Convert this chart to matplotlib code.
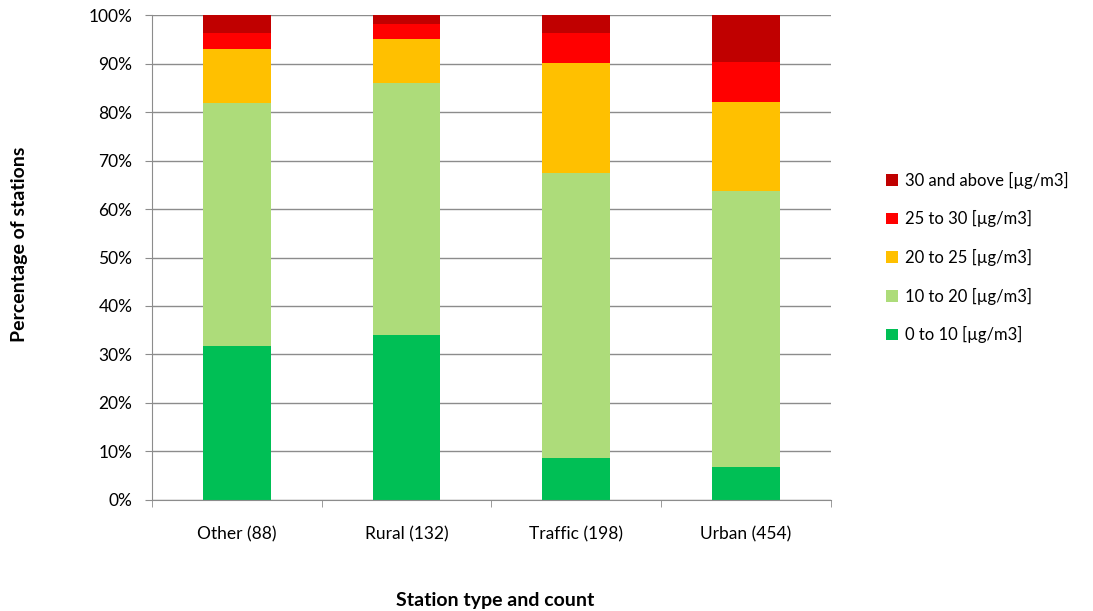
import matplotlib.pyplot as plt
import numpy as np

plt.rcParams['font.family'] = ['Lato', 'DejaVu Sans']

categories = ['Other (88)', 'Rural (132)', 'Traffic (198)', 'Urban (454)']
labels = ['0 to 10 [µg/m3]', '10 to 20 [µg/m3]', '20 to 25 [µg/m3]',
          '25 to 30 [µg/m3]', '30 and above [µg/m3]']
colors = ['#00BF55', '#ADDC7A', '#FFC000', '#FF0000', '#C00000']

s0_10 = [31.8, 34.1, 8.6, 6.8]
s10_20 = [50.0, 51.9, 58.8, 56.9]
s20_25 = [11.2, 9.1, 22.7, 18.4]
s25_30 = [3.3, 3.0, 6.2, 8.2]
s30_up = [3.7, 1.9, 3.7, 9.7]
series = [s0_10, s10_20, s20_25, s25_30, s30_up]

fig = plt.figure(figsize=(10.93, 6.11), dpi=100)
ax = fig.add_axes([0.139, 0.182, 0.621, 0.793])

x = np.arange(len(categories))
bottom = np.zeros(len(categories))
for vals, lab, c in zip(series, labels, colors):
    ax.bar(x, vals, 0.4, bottom=bottom, color=c, label=lab, zorder=2)
    bottom += np.array(vals)

ax.set_xlim(-0.5, 3.5)
ax.set_ylim(0, 100)
ax.set_yticks(np.arange(0, 101, 10))
ax.set_yticklabels([f'{v}%' for v in range(0, 101, 10)], fontsize=12.5)
ax.yaxis.grid(True, color='#8c8c8c', linewidth=1, zorder=0)
ax.set_axisbelow(True)

ax.set_xticks(x)
ax.set_xticklabels(categories, fontsize=12.5)
ax.tick_params(axis='x', length=0, pad=19)
ax.set_xticks(np.arange(-0.5, 4, 1), minor=True)
ax.tick_params(axis='x', which='minor', length=5, color='#8c8c8c', direction='out')
ax.tick_params(axis='y', length=5, color='#8c8c8c', direction='out', pad=9)

for s in ['top', 'right']:
    ax.spines[s].set_visible(False)
for s in ['left', 'bottom']:
    ax.spines[s].set_color('#8c8c8c')

fig.text(0.018, 0.60, 'Percentage of stations', rotation=90, fontsize=14,
         fontweight='bold', ha='center', va='center')
fig.text(0.453, 0.018, 'Station type and count', fontsize=14,
         fontweight='bold', ha='center', va='center')

h, l = ax.get_legend_handles_labels()
ax.legend(h[::-1], l[::-1], loc='center left', bbox_to_anchor=(1.06, 0.5),
          frameon=False, fontsize=12, handlelength=0.7, handleheight=0.7,
          handletextpad=0.4, labelspacing=1.3)

fig.savefig('out.png', dpi=100)
